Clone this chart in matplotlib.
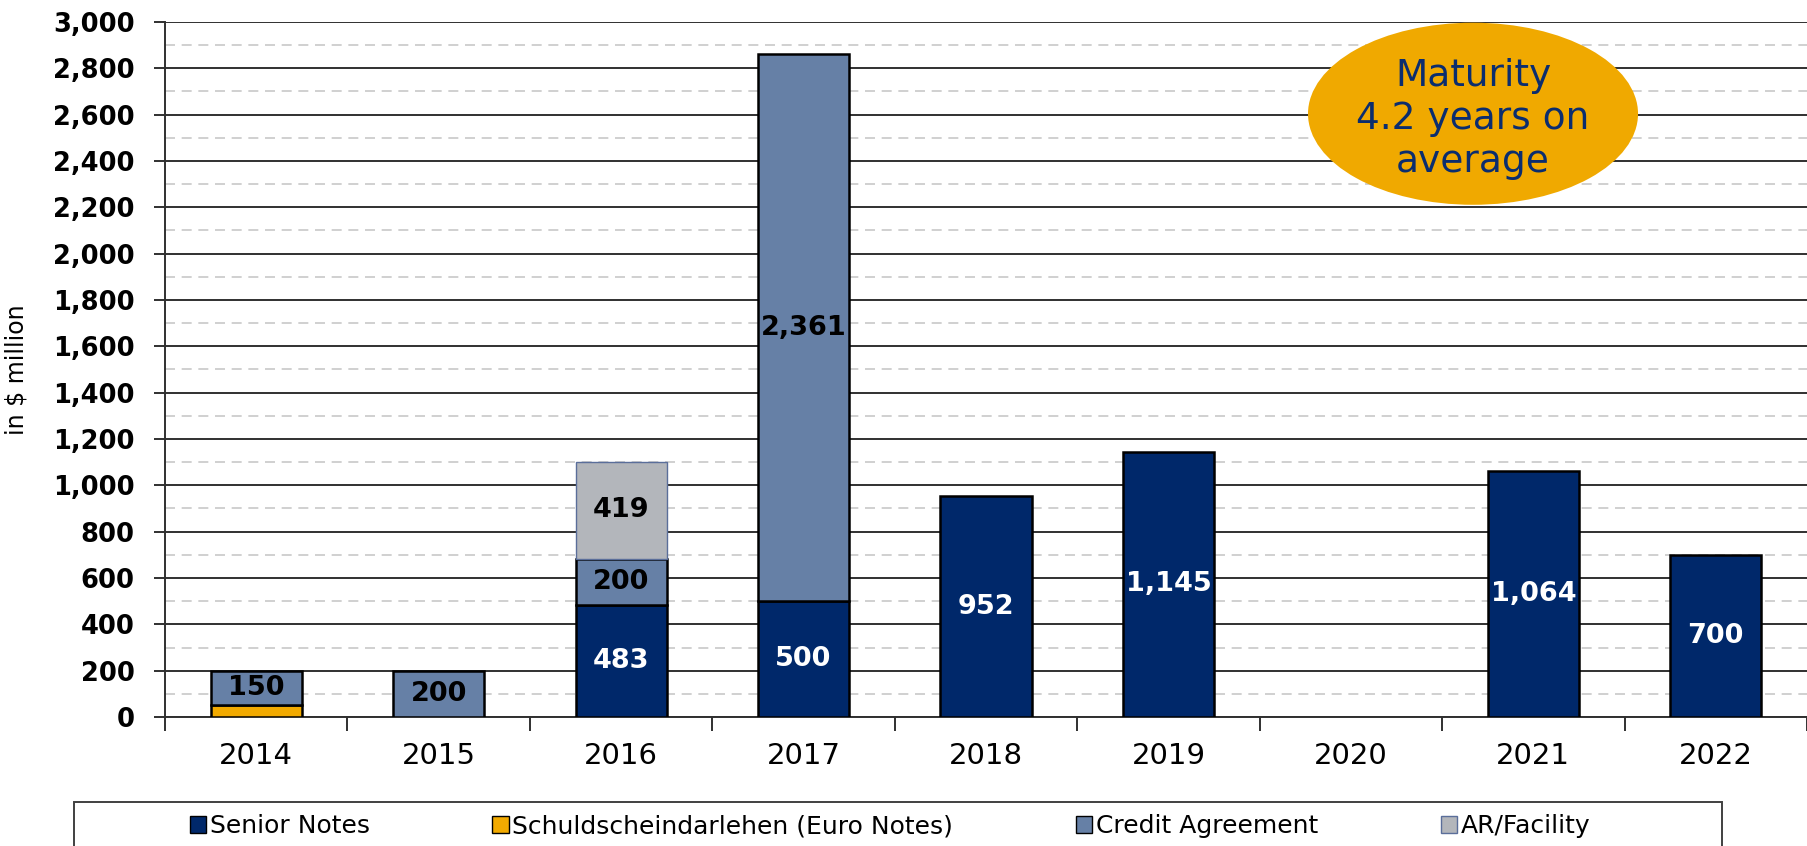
import matplotlib
matplotlib.use("Agg")
import matplotlib.pyplot as plt
from matplotlib.patches import Ellipse, Rectangle, Patch
import numpy as np

years = ["2014", "2015", "2016", "2017", "2018", "2019", "2020", "2021", "2022"]
senior_notes = [0, 0, 483, 500, 952, 1145, 0, 1064, 700]
schuldschein = [50, 0, 0, 0, 0, 0, 0, 0, 0]
credit_agreement = [150, 200, 200, 2361, 0, 0, 0, 0, 0]
ar_facility = [0, 0, 419, 0, 0, 0, 0, 0, 0]

navy = "#00286A"
orange = "#F2AA00"
steel = "#6680A6"
grey = "#B3B6BB"

plt.rcParams["font.family"] = ["DejaVu Sans"]

fig = plt.figure(figsize=(18.07, 8.46), dpi=100)
ax = fig.add_axes([165 / 1807, 1 - 717 / 846, 1 - 165 / 1807, (717 - 22) / 846])

x = np.arange(len(years))
w = 0.5


def stack(vals, bottoms, color, edge="black", lw=1.8):
    # only draw segments that exist, zero bars would leave an edge line
    vals = np.array(vals)
    m = vals > 0
    ax.bar(x[m], vals[m], w, bottom=bottoms[m], color=color, edgecolor=edge, linewidth=lw, zorder=3)
    return bottoms + vals


b0 = np.zeros(len(years))
b1 = stack(senior_notes, b0, navy)
b2 = stack(schuldschein, b1, orange)
b3 = stack(credit_agreement, b2, steel)
stack(ar_facility, b3, grey, edge="#5A6E9A", lw=1.0)


# value labels in the middle of each segment
def label_segments(vals, bottoms, color):
    for xi, v, b in zip(x, vals, bottoms):
        if v > 0:
            ax.text(xi, b + v / 2, f"{v:,}", ha="center", va="center",
                    fontsize=19.5, fontweight="bold", color=color, zorder=5)


label_segments(senior_notes, b0, "white")
label_segments(credit_agreement, b2, "black")
label_segments(ar_facility, b3, "black")

# grid: solid every 200, dashed in between
ax.set_ylim(0, 3000)
ax.set_xlim(-0.5, len(years) - 0.5)
ax.set_yticks(np.arange(0, 3001, 200))
ax.set_yticks(np.arange(100, 3000, 200), minor=True)
ax.grid(axis="y", which="major", color="#303030", linewidth=1.4, zorder=1)
ax.grid(axis="y", which="minor", color="#C8C8C8", linewidth=1.2, linestyle=(0, (6, 4)), zorder=1)
ax.set_yticklabels([f"{v:,}" for v in range(0, 3001, 200)], fontsize=18.5, fontweight="bold")
ax.tick_params(axis="y", which="major", length=8, width=1.4, pad=14, color="#303030")
ax.tick_params(axis="y", which="minor", length=0)

ax.set_xticks(x)
ax.set_xticklabels(years, fontsize=21)
ax.set_xticks(np.arange(-0.5, len(years)), minor=True)
ax.tick_params(axis="x", which="major", length=0, pad=18)
ax.tick_params(axis="x", which="minor", length=10, width=1.4, color="#303030")

for s in ["top", "right"]:
    ax.spines[s].set_visible(False)
ax.spines["left"].set_color("#303030")
ax.spines["left"].set_linewidth(1.4)
ax.spines["bottom"].set_color("#303030")
ax.spines["bottom"].set_linewidth(1.4)

ax.set_ylabel("in $ million", fontsize=17)
ax.yaxis.set_label_coords(-0.083, 0.5)

# maturity bubble
ax.add_patch(Ellipse((0.7966, 0.868), 0.201, 0.262, transform=ax.transAxes,
                     facecolor="#F0A900", edgecolor="none", zorder=6))
ax.text(0.7966, 0.861, "Maturity\n4.2 years on\naverage", transform=ax.transAxes,
        ha="center", va="center", fontsize=27, color="#0B2D6E", linespacing=1.25, zorder=7)

# legend box
fig.patches.append(Rectangle((74 / 1807, -0.05), (1722 - 74) / 1807, 0.05 + 1 - 802 / 846,
                             transform=fig.transFigure, facecolor="white",
                             edgecolor="#404040", linewidth=1.4))
handles = [Patch(facecolor=navy, edgecolor="black"),
           Patch(facecolor=orange, edgecolor="black"),
           Patch(facecolor=steel, edgecolor="black"),
           Patch(facecolor=grey, edgecolor="#5A6E9A")]
names = ["Senior Notes", "Schuldscheindarlehen (Euro Notes)", "Credit Agreement", "AR/Facility"]
fig.legend(handles, names, loc="center", bbox_to_anchor=(890 / 1807, 1 - 826 / 846),
           ncol=4, frameon=False, fontsize=18, handlelength=0.65, handleheight=0.65,
           handletextpad=0.15, columnspacing=4.9)

fig.savefig("out.png", dpi=100)
